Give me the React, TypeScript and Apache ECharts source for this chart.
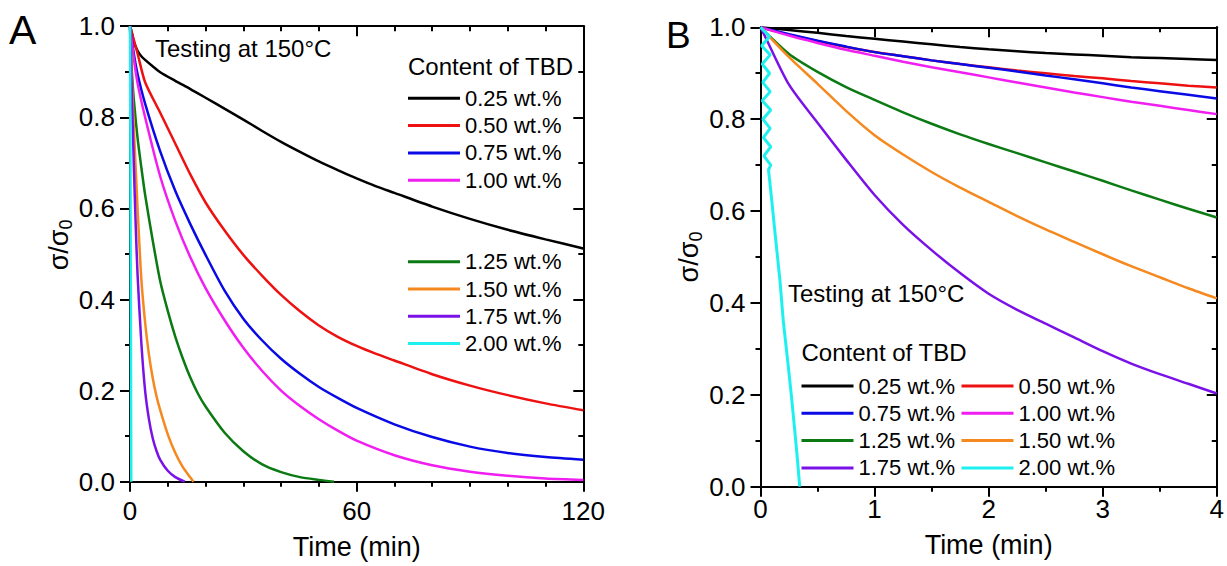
import React, { useEffect, useRef } from "react";
import * as echarts from "echarts";

const FONT = "'Liberation Sans', Arial, Helvetica, sans-serif";

const NAMES = ["0.25 wt.%", "0.50 wt.%", "0.75 wt.%", "1.00 wt.%", "1.25 wt.%", "1.50 wt.%", "1.75 wt.%", "2.00 wt.%"];
const COLORS = ["#000000", "#ee1111", "#0a0ae6", "#f01ef0", "#0b7a12", "#f5881e", "#7a12e8", "#1ef0f0"];

// Panel A (time in min, 0-120)
const A_black_t = [0, 0.5, 1, 2, 3, 4, 6, 8, 12, 16, 20, 25, 30, 35, 40, 45, 50, 55, 60, 65, 70, 80, 90, 100, 110, 120];
const A_black_v = [1, 0.985, 0.966, 0.946, 0.934, 0.926, 0.912, 0.899, 0.88, 0.862, 0.843, 0.819, 0.795, 0.77, 0.746, 0.724, 0.703, 0.684, 0.666, 0.649, 0.634, 0.604, 0.577, 0.553, 0.532, 0.512];
const A_red_t = [0, 2, 4, 8, 12, 16, 20, 25, 30, 35, 40, 45, 50, 55, 60, 65, 70, 80, 90, 100, 110, 120];
const A_red_v = [1, 0.94, 0.877, 0.81, 0.742, 0.674, 0.613, 0.552, 0.498, 0.452, 0.41, 0.374, 0.343, 0.318, 0.298, 0.281, 0.266, 0.236, 0.211, 0.19, 0.172, 0.157];
const A_blue_t = [0, 1, 2, 4, 8, 12, 16, 20, 25, 30, 35, 40, 45, 50, 55, 60, 70, 80, 90, 100, 110, 120];
const A_blue_v = [1, 0.94, 0.895, 0.83, 0.725, 0.638, 0.565, 0.498, 0.42, 0.358, 0.31, 0.27, 0.237, 0.208, 0.184, 0.162, 0.126, 0.098, 0.077, 0.063, 0.054, 0.048];
const A_mag_t = [0, 1, 2, 4, 8, 12, 16, 20, 25, 30, 35, 40, 45, 50, 55, 60, 70, 80, 90, 100, 110, 120];
const A_mag_v = [1, 0.93, 0.875, 0.8, 0.67, 0.572, 0.492, 0.425, 0.355, 0.294, 0.243, 0.2, 0.166, 0.137, 0.112, 0.09, 0.058, 0.036, 0.022, 0.013, 0.007, 0.004];
const A_green_t = [0, 0.5, 1, 2, 3, 4, 6, 8, 10, 12, 14, 16, 18, 20, 25, 30, 35, 40, 45, 50, 54];
const A_green_v = [1, 0.9, 0.84, 0.755, 0.69, 0.63, 0.53, 0.44, 0.375, 0.318, 0.27, 0.228, 0.193, 0.165, 0.108, 0.067, 0.038, 0.021, 0.01, 0.004, 0];
const A_orange_t = [0, 0.5, 1, 2, 3, 4, 5, 6, 7, 8, 10, 12, 14, 16, 16.8];
const A_orange_v = [1, 0.88, 0.78, 0.6, 0.445, 0.35, 0.28, 0.228, 0.188, 0.157, 0.104, 0.063, 0.032, 0.009, 0];
const A_purple_t = [0, 0.5, 1, 1.5, 2, 3, 4, 5, 6, 7, 8, 10, 12, 14.5];
const A_purple_v = [1, 0.85, 0.7, 0.565, 0.455, 0.305, 0.2, 0.138, 0.096, 0.068, 0.048, 0.024, 0.01, 0];
const A_cyan_t = [0, 0.1, 0.2, 0.34];
const A_cyan_v = [1, 0.75, 0.45, 0];

// Panel B (time in min, 0-4)
const B_t = [0, 0.25, 0.5, 0.75, 1, 1.25, 1.5, 1.75, 2, 2.25, 2.5, 2.75, 3, 3.25, 3.5, 3.75, 4];
const B_black_v = [1, 0.994, 0.988, 0.981, 0.975, 0.969, 0.963, 0.957, 0.952, 0.948, 0.944, 0.941, 0.938, 0.935, 0.933, 0.931, 0.929];
const B_red_v = [1, 0.984, 0.97, 0.957, 0.946, 0.937, 0.928, 0.92, 0.913, 0.906, 0.9, 0.894, 0.889, 0.883, 0.878, 0.873, 0.869];
const B_blue_v = [1, 0.985, 0.971, 0.958, 0.946, 0.937, 0.928, 0.92, 0.912, 0.904, 0.895, 0.887, 0.878, 0.869, 0.861, 0.853, 0.845];
const B_mag_v = [1, 0.982, 0.966, 0.951, 0.938, 0.925, 0.913, 0.902, 0.891, 0.88, 0.869, 0.858, 0.848, 0.838, 0.829, 0.82, 0.811];
const B_green_v = [1, 0.942, 0.903, 0.87, 0.842, 0.815, 0.79, 0.767, 0.746, 0.726, 0.706, 0.686, 0.666, 0.645, 0.625, 0.605, 0.586];
const B_orange_v = [1, 0.935, 0.877, 0.818, 0.765, 0.723, 0.685, 0.651, 0.62, 0.589, 0.56, 0.533, 0.506, 0.48, 0.456, 0.432, 0.41];
const B_purple_t = [0, 0.04, 0.25, 0.5, 0.75, 1, 1.25, 1.5, 1.75, 2, 2.25, 2.5, 2.75, 3, 3.25, 3.5, 3.75, 4];
const B_purple_v = [1, 0.98, 0.875, 0.792, 0.712, 0.635, 0.57, 0.515, 0.465, 0.42, 0.385, 0.355, 0.325, 0.295, 0.268, 0.245, 0.224, 0.203];
const B_cyan_t = [0, 0.08, 0.01, 0.085, 0.015, 0.08, 0.02, 0.085, 0.015, 0.09, 0.02, 0.085, 0.025, 0.09, 0.03, 0.09, 0.07, 0.1, 0.12, 0.17, 0.2, 0.24, 0.27, 0.3, 0.32, 0.344];
const B_cyan_v = [1, 0.98, 0.96, 0.94, 0.92, 0.9, 0.88, 0.86, 0.84, 0.82, 0.8, 0.78, 0.76, 0.74, 0.72, 0.7, 0.69, 0.62, 0.57, 0.45, 0.36, 0.27, 0.2, 0.123, 0.07, 0];

const A_X_TICKS = { min: 0, max: 120, interval: 60, minor: 10 };
const B_X_TICKS = { min: 0, max: 4, interval: 1, minor: 0.5 };
const Y_TICKS = { min: 0, max: 1, interval: 0.2, minor: 0.1 };

const pairs = (ts: number[], vs: number[]) => ts.map((t, i) => [t, vs[i]]);

const A_DATA = [
  pairs(A_black_t, A_black_v),
  pairs(A_red_t, A_red_v),
  pairs(A_blue_t, A_blue_v),
  pairs(A_mag_t, A_mag_v),
  pairs(A_green_t, A_green_v),
  pairs(A_orange_t, A_orange_v),
  pairs(A_purple_t, A_purple_v),
  pairs(A_cyan_t, A_cyan_v),
];
const B_DATA = [
  pairs(B_t, B_black_v),
  pairs(B_t, B_red_v),
  pairs(B_t, B_blue_v),
  pairs(B_t, B_mag_v),
  pairs(B_t, B_green_v),
  pairs(B_t, B_orange_v),
  pairs(B_purple_t, B_purple_v),
  pairs(B_cyan_t, B_cyan_v),
];

// kind: x/y ; mirror: top/right ; minor: short ticks only
function axis(kind: "x" | "y", gridIndex: number, ticks: any, mirror: boolean, minor: boolean, extra: any = {}) {
  const position = kind === "x" ? (mirror ? "top" : "bottom") : mirror ? "right" : "left";
  return {
    type: "value",
    gridIndex,
    position,
    min: ticks.min,
    max: ticks.max,
    interval: minor ? ticks.minor : ticks.interval,
    axisLine: { show: true, onZero: false, lineStyle: { color: "#000", width: 2 } },
    axisTick: { show: true, inside: mirror, length: minor ? 5 : 10, lineStyle: { color: "#000", width: 2 } },
    minorTick: { show: false },
    splitLine: { show: false },
    minorSplitLine: { show: false },
    axisPointer: { show: false },
    axisLabel: {
      show: !mirror && !minor,
      fontSize: 26,
      color: "#000",
      fontFamily: FONT,
      formatter: kind === "y" ? (v: number) => v.toFixed(1) : (v: number) => String(v),
    },
    ...extra,
  };
}

const xName = (gap: number) => ({
  name: "Time (min)",
  nameLocation: "middle",
  nameGap: gap,
  nameTextStyle: { fontSize: 27, color: "#000", fontFamily: FONT },
});
const yName = (gap: number, shiftUp: number) => ({
  name: "{m|σ/σ}{s|0}",
  nameLocation: "middle",
  nameGap: gap,
  nameTextStyle: {
    color: "#000",
    fontFamily: FONT,
    padding: [0, 0, 0, shiftUp * 2],
    rich: {
      m: { fontSize: 27, fontFamily: FONT, color: "#000", lineHeight: 32, verticalAlign: "middle" },
      s: { fontSize: 18, fontFamily: FONT, color: "#000", lineHeight: 32, verticalAlign: "bottom" },
    },
  },
});

const legendBase = {
  orient: "vertical",
  icon: "rect",
  itemWidth: 52,
  itemHeight: 3,
  itemGap: 5.3,
  padding: 0,
  selectedMode: false,
  textStyle: { fontSize: 22, lineHeight: 22, color: "#000", fontFamily: FONT },
};

const txt = (x: number, y: number, text: string, size: number) => ({
  type: "text",
  x,
  y,
  style: { text, fill: "#000", font: `${size}px ${FONT}`, textAlign: "left", textVerticalAlign: "middle" },
});

export default function App() {
  const ref = useRef<HTMLDivElement>(null);
  useEffect(() => {
    if (!ref.current) return;
    const chart = echarts.init(ref.current, null, { renderer: "svg" });
    const series: any[] = [];
    const mk = (d: any, i: number, xi: number, yi: number, w: number) => ({
      type: "line",
      name: NAMES[i],
      xAxisIndex: xi,
      yAxisIndex: yi,
      data: d,
      showSymbol: false,
      symbol: "none",
      smooth: i === 7 ? false : 0.25,
      lineStyle: { color: COLORS[i], width: w },
      itemStyle: { color: COLORS[i] },
    });
    A_DATA.forEach((d, i) => series.push(mk(d, i, 0, 0, 2.5)));
    B_DATA.forEach((d, i) => series.push(mk(d, i, 4, 4, i === 7 ? 3 : 2.5)));
    const option: any = {
      animation: false,
      backgroundColor: "#ffffff",
      textStyle: { fontFamily: FONT },
      grid: [
        { left: 130, top: 26.2, width: 453.3, height: 455.5 },
        { left: 760.5, top: 27.3, width: 459.5, height: 459.4 },
      ],
      xAxis: [
        axis("x", 0, A_X_TICKS, false, false, { ...xName(52), axisLabel: { ...axis("x", 0, A_X_TICKS, false, false).axisLabel, margin: 16 } }),
        axis("x", 0, A_X_TICKS, true, false),
        axis("x", 0, A_X_TICKS, false, true),
        axis("x", 0, A_X_TICKS, true, true),
        axis("x", 1, B_X_TICKS, false, false, { ...xName(45), axisLabel: { ...axis("x", 1, B_X_TICKS, false, false).axisLabel, margin: 9 } }),
        axis("x", 1, B_X_TICKS, true, false),
        axis("x", 1, B_X_TICKS, false, true),
        axis("x", 1, B_X_TICKS, true, true),
      ],
      yAxis: [
        axis("y", 0, Y_TICKS, false, false, { ...yName(38, 9), axisLabel: { ...axis("y", 0, Y_TICKS, false, false).axisLabel, margin: 15 } }),
        axis("y", 0, Y_TICKS, true, false),
        axis("y", 0, Y_TICKS, false, true),
        axis("y", 0, Y_TICKS, true, true),
        axis("y", 1, Y_TICKS, false, false, { ...yName(21, 0), axisLabel: { ...axis("y", 1, Y_TICKS, false, false).axisLabel, margin: 15 } }),
        axis("y", 1, Y_TICKS, true, false),
        axis("y", 1, Y_TICKS, false, true),
        axis("y", 1, Y_TICKS, true, true),
      ],
      legend: [
        { ...legendBase, data: NAMES.slice(0, 4), left: 408, top: 87.3 },
        { ...legendBase, data: NAMES.slice(4, 8), left: 408, top: 250.7 },
        { ...legendBase, data: [NAMES[0], NAMES[2], NAMES[4], NAMES[6]], left: 801.5, top: 375 },
        { ...legendBase, data: [NAMES[1], NAMES[3], NAMES[5], NAMES[7]], left: 961.5, top: 375 },
      ],
      graphic: [
        txt(9, 30, "A", 41),
        txt(666, 35, "B", 37),
        txt(155, 48.3, "Testing at 150°C", 24),
        txt(788, 293, "Testing at 150°C", 24),
        txt(408, 66.2, "Content of TBD", 24),
        txt(801.5, 352.5, "Content of TBD", 24),
      ],
      series,
    };
    chart.setOption(option);
    return () => chart.dispose();
  }, []);
  return (
    <div
      ref={ref}
      style={{ position: "fixed", left: 0, top: 0, width: 1227, height: 566, background: "#fff" }}
    />
  );
}
